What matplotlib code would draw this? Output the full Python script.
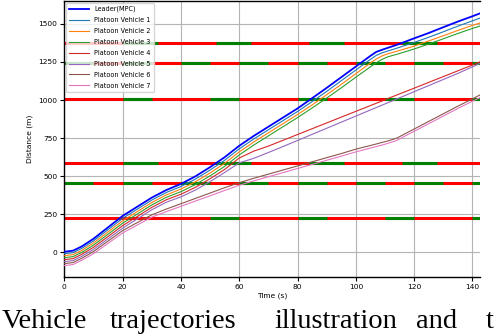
import matplotlib
matplotlib.use('Agg')
import matplotlib.pyplot as plt

# time samples (s)
t = [0, 3, 6, 10, 15, 20, 25, 30, 35, 40, 45, 50, 55, 60, 65, 70, 75, 80, 85, 90,
     95, 100, 105, 107, 109, 111, 114, 120, 125, 130, 135, 140, 142.5]

# positions (m)
leader = [5, 12, 40, 90, 165, 240, 300, 360, 410, 450, 500, 560, 625, 700, 765, 825, 885,
          945, 1012, 1080, 1150, 1220, 1290, 1316, 1330, 1343, 1362, 1405, 1440, 1478,
          1515, 1550, 1568]
v1 = [-8, -1, 27, 76, 150, 224, 284, 344, 394, 433, 482, 541, 605, 680, 745, 805, 865,
      925, 990, 1057, 1127, 1197, 1267, 1293, 1310, 1322, 1340, 1378, 1412, 1448, 1485,
      1520, 1537]
v2 = [-21, -14, 14, 62, 135, 208, 268, 328, 378, 416, 464, 522, 585, 660, 725, 785, 845,
      905, 968, 1035, 1103, 1173, 1243, 1269, 1290, 1304, 1320, 1354, 1388, 1422, 1457,
      1490, 1505]
v3 = [-34, -27, 1, 48, 120, 192, 252, 312, 362, 399, 446, 503, 565, 640, 705, 765, 825,
      885, 948, 1013, 1080, 1150, 1218, 1245, 1267, 1284, 1300, 1335, 1368, 1402, 1437,
      1470, 1485]
v4 = [-47, -40, -12, 34, 105, 176, 236, 296, 346, 382, 428, 484, 545, 620, 665, 698, 736,
      774, 812, 850, 888, 926, 964, 979, 994, 1010, 1033, 1078, 1116, 1154, 1192, 1230,
      1250]
v5 = [-60, -53, -25, 20, 90, 160, 220, 280, 330, 365, 410, 465, 525, 588, 618, 656, 695,
      735, 775, 815, 855, 895, 935, 951, 967, 983, 1007, 1055, 1095, 1135, 1175, 1218,
      1240]
v6 = [-73, -66, -38, 6, 75, 144, 196, 247, 285, 320, 355, 390, 425, 458, 487, 514, 541,
      568, 595, 622, 649, 678, 702, 712, 722, 732, 750, 810, 860, 910, 960, 1008, 1033]
v7 = [-86, -79, -51, -8, 60, 128, 180, 232, 268, 303, 338, 372, 407, 441, 470, 497, 524,
      551, 578, 605, 632, 660, 685, 695, 705, 716, 735, 795, 845, 895, 945, 993, 1015]

followers = [v1, v2, v3, v4, v5, v6, v7]
labels = ['Leader(MPC)'] + ['Platoon Vehicle %d' % i for i in range(1, 8)]

# traffic lights: position (m) and green windows (s); red otherwise
signal_pos = [226, 456, 588, 1008, 1245, 1377]
green_226 = [(50, 60), (80, 90), (110, 120), (140, 150)]
green_456 = [(0, 10), (20, 30), (40, 50), (60, 70), (80, 90), (100, 110), (120, 130), (140, 150)]
green_588 = [(20, 32), (52, 64), (84, 96), (116, 128)]
green_1008 = [(20, 30), (50, 60), (80, 90), (110, 120), (140, 150)]
green_1245 = green_456
green_1377 = green_588
green_windows = [green_226, green_456, green_588, green_1008, green_1245, green_1377]

x_max = 142.6

fig = plt.figure(figsize=(5.04, 3.34), dpi=100)
ax = fig.add_axes([0.1276, 0.171, 0.8248, 0.826])

for pos, greens in zip(signal_pos, green_windows):
    ax.plot([0, x_max + 5], [pos, pos], color='red', lw=2.2, zorder=2, solid_capstyle='butt')
    for g0, g1 in greens:
        ax.plot([g0, min(g1, x_max + 5)], [pos, pos], color='green', lw=2.2, zorder=2,
                solid_capstyle='butt')

ax.plot(t, leader, color='blue', lw=1.3, label=labels[0], zorder=3)
for i, v in enumerate(followers):
    ax.plot(t, v, color='C%d' % i, lw=0.8, label=labels[i + 1], zorder=3)

ax.set_xlim(0, x_max)
ax.set_ylim(-160, 1650)
ax.set_xticks(range(0, 141, 20))
ax.set_yticks(range(0, 1501, 250))
ax.tick_params(labelsize=5.4, length=3, width=0.8, pad=2)
ax.grid(True, color='#b4b4b4', lw=0.8)
ax.set_axisbelow(True)
ax.spines['right'].set_visible(False)
for s in ['left', 'bottom', 'top']:
    ax.spines[s].set_linewidth(1.0)

ax.set_xlabel('Time (s)', fontsize=5.4, labelpad=2)
ax.set_ylabel('Distance (m)', fontsize=5.4, labelpad=4)

leg = ax.legend(loc='upper left', fontsize=4.7, handlelength=3.0, borderaxespad=0.25,
                framealpha=0.8, labelspacing=0.75, borderpad=0.5)
leg.set_zorder(5)

# caption fragment of the source page
cap_words = ['Vehicle', 'trajectories', 'illustration', 'and', 't']
cap_x = [2, 110, 274, 416, 486]
for w, xp in zip(cap_words, cap_x):
    fig.text(xp / 504, 6 / 334, w, fontsize=20.5, family='Liberation Serif',
             va='baseline', ha='left')

fig.savefig('out.png', dpi=100)
